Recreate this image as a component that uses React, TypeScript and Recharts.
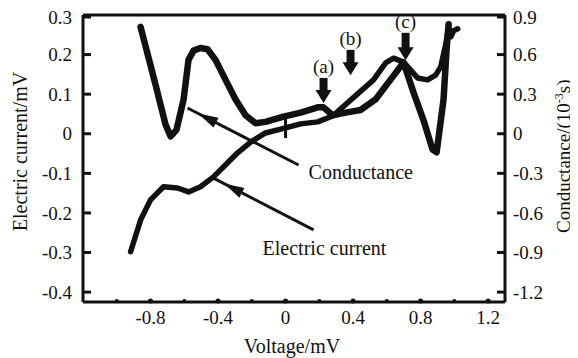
import { LineChart, Line, XAxis, YAxis, ReferenceLine, Label } from 'recharts';

// conductance curve (right axis, 10^-3 s)
const condVoltage = [
  -0.859, -0.77, -0.711, -0.681, -0.646, -0.604, -0.575, -0.545, -0.504, -0.462, -0.415,
  -0.356, -0.296, -0.237, -0.178, -0.119, -0.012, 0.089, 0.19, 0.225, 0.279, 0.356, 0.444,
  0.533, 0.622, 0.699, 0.759, 0.818, 0.871, 0.895, 0.936, 0.954, 0.966,
];
const condValues = [
  0.81, 0.37, 0.07, -0.02, 0.03, 0.26, 0.56, 0.63, 0.65, 0.64, 0.56, 0.41, 0.26, 0.14, 0.08,
  0.09, 0.13, 0.16, 0.2, 0.2, 0.14, 0.16, 0.18, 0.26, 0.41, 0.54, 0.31, 0.1, -0.12, -0.14,
  0.26, 0.64, 0.83,
];

// electric current curve (left axis, mV)
const currVoltage = [
  -0.918, -0.859, -0.8, -0.723, -0.64, -0.575, -0.504, -0.427, -0.284, -0.207, -0.119, 0,
  0.089, 0.19, 0.279, 0.385, 0.521, 0.593, 0.64, 0.699, 0.782, 0.841, 0.889, 0.919, 0.948,
  0.966, 0.98, 0.995, 1.02,
];
const currValues = [
  -0.298, -0.218, -0.167, -0.134, -0.137, -0.147, -0.134, -0.109, -0.048, -0.021, 0.002,
  0.015, 0.025, 0.03, 0.045, 0.085, 0.136, 0.179, 0.191, 0.181, 0.141, 0.136, 0.148, 0.169,
  0.224, 0.27, 0.245, 0.26, 0.265,
];

const xTicks = [-1.0, -0.8, -0.6, -0.4, -0.2, 0, 0.2, 0.4, 0.6, 0.8, 1.0, 1.2];
const xLabels = [-0.8, -0.4, 0, 0.4, 0.8, 1.2];
const leftTicks = [-0.4, -0.35, -0.3, -0.25, -0.2, -0.15, -0.1, -0.05, 0, 0.05, 0.1, 0.15, 0.2, 0.25, 0.3];
const leftLabels = [-0.4, -0.3, -0.2, -0.1, 0, 0.1, 0.2, 0.3];
const rightTicks = [-1.2, -1.05, -0.9, -0.75, -0.6, -0.45, -0.3, -0.15, 0, 0.15, 0.3, 0.45, 0.6, 0.75, 0.9];
const rightLabels = [-1.2, -0.9, -0.6, -0.3, 0, 0.3, 0.6, 0.9];

const condData = condVoltage.map((v, i) => ({ v, g: condValues[i] }));
const currData = currVoltage.map((v, i) => ({ v, i: currValues[i] }));

const FONT = '"Liberation Serif", "Times New Roman", Times, serif';
const INK = '#111';
const txt = { fontFamily: FONT };

const isIn = (list: number[], v: number) => list.some((t) => Math.abs(t - v) < 1e-6);

const BottomTick = ({ x, y, payload }: any) => {
  const major = isIn(xLabels, payload.value);
  return (
    <g>
      <circle cx={x} cy={y - 9} r={major ? 2.5 : 2} fill={INK} />
      {major && (
        <text x={x} y={y} dy="0.75em" textAnchor="middle" style={txt} fontSize={19} fill={INK}>
          {String(payload.value)}
        </text>
      )}
    </g>
  );
};

const LeftTick = ({ x, y, payload }: any) => {
  const major = isIn(leftLabels, payload.value);
  return (
    <g>
      <line x1={x + 11} x2={x + 11 + (major ? 8 : 6)} y1={y} y2={y} stroke={INK} strokeWidth={3} />
      {major && (
        <text x={x} y={y} dy="0.35em" textAnchor="end" style={txt} fontSize={19} fill={INK}>
          {String(payload.value)}
        </text>
      )}
    </g>
  );
};

const RightTick = ({ x, y, payload }: any) => {
  const major = isIn(rightLabels, payload.value);
  return (
    <g>
      <line x1={x - 8} x2={x - 8 - (major ? 8 : 6)} y1={y} y2={y} stroke={INK} strokeWidth={3} />
      {major && (
        <text x={x} y={y} dy="0.35em" textAnchor="start" style={txt} fontSize={19} fill={INK}>
          {String(payload.value)}
        </text>
      )}
    </g>
  );
};

// thick down arrow with a letter above it
const downArrow = (letter: string) => (p: any) => {
  const { x1, y1, x2, y2 } = p;
  return (
    <g>
      <rect x={x1 - 4} y={y1} width={8} height={y2 - y1 - 11} fill={INK} />
      <polygon points={`${x2 - 8},${y2 - 13} ${x2 + 8},${y2 - 13} ${x2},${y2}`} fill={INK} />
      <text x={x1} y={y1 - 5} textAnchor="middle" style={txt} fontSize={19} fill={INK}>
        {letter}
      </text>
    </g>
  );
};

// pointer line from a text label to a curve
const pointer = (text: string, dx: number, dy: number) => (p: any) => {
  const { x1, y1, x2, y2 } = p;
  const len = Math.hypot(x2 - x1, y2 - y1);
  const ux = (x2 - x1) / len;
  const uy = (y2 - y1) / len;
  const tipX = x2 - ux * 12;
  const tipY = y2 - uy * 12;
  const baseX = tipX - ux * 20;
  const baseY = tipY - uy * 20;
  return (
    <g>
      <line x1={x1} y1={y1} x2={x2} y2={y2} stroke={INK} strokeWidth={3} />
      <polygon
        points={`${tipX},${tipY} ${baseX - uy * 5.5},${baseY + ux * 5.5} ${baseX + uy * 5.5},${baseY - ux * 5.5}`}
        fill={INK}
      />
      <text x={x1 + dx} y={y1 + dy} dy="0.35em" textAnchor="start" style={txt} fontSize={20} fill={INK}>
        {text}
      </text>
    </g>
  );
};

export default function App() {
  return (
    <div style={{ background: '#fff' }}>
      <LineChart width={570} height={350} margin={{ top: 7, right: 0, bottom: 0, left: 0 }}>
        <XAxis
          type="number"
          dataKey="v"
          domain={[-1.2, 1.3]}
          ticks={xTicks}
          allowDataOverflow
          height={56}
          tickSize={0}
          tickMargin={8}
          tick={<BottomTick />}
          axisLine={{ stroke: INK, strokeWidth: 3 }}
        >
          <Label
            content={({ viewBox }: any) => (
              <text
                x={viewBox.x + viewBox.width / 2 - 2}
                y={viewBox.y + 51}
                textAnchor="middle"
                style={txt}
                fontSize={20}
                fill={INK}
              >
                Voltage/mV
              </text>
            )}
          />
        </XAxis>
        <YAxis
          yAxisId="left"
          type="number"
          domain={[-0.425, 0.3]}
          ticks={leftTicks}
          allowDataOverflow
          width={75}
          tickSize={0}
          tickMargin={11}
          tick={<LeftTick />}
          axisLine={{ stroke: INK, strokeWidth: 3 }}
        >
          <Label
            content={({ viewBox }: any) => {
              const cx = viewBox.x + 12;
              const cy = viewBox.y + viewBox.height / 2 - 7;
              return (
                <text
                  x={cx}
                  y={cy}
                  transform={`rotate(-90, ${cx}, ${cy})`}
                  textAnchor="middle"
                  dy="0.35em"
                  style={txt}
                  fontSize={20}
                  fill={INK}
                >
                  Electric current/mV
                </text>
              );
            }}
          />
        </YAxis>
        <YAxis
          yAxisId="right"
          orientation="right"
          type="number"
          domain={[-1.275, 0.9]}
          ticks={rightTicks}
          allowDataOverflow
          width={73}
          tickSize={0}
          tickMargin={8}
          tick={<RightTick />}
          axisLine={{ stroke: INK, strokeWidth: 3 }}
        >
          <Label
            content={() => {
              const cx = 555;
              const cy = 225;
              return (
                <text
                  x={cx}
                  y={cy}
                  transform={`rotate(-90, ${cx}, ${cy})`}
                  textAnchor="start"
                  dy="0.35em"
                  style={txt}
                  fontSize={19}
                  fill={INK}
                >
                  <tspan>Conductance/(10</tspan>
                  <tspan fontSize={12} dy={-7}>-3</tspan>
                  <tspan dy={7}>s)</tspan>
                </text>
              );
            }}
          />
        </YAxis>

        {/* frame top */}
        <ReferenceLine yAxisId="left" y={0.3} stroke={INK} strokeWidth={3} ifOverflow="visible" />

        <Line
          yAxisId="right"
          data={condData}
          dataKey="g"
          type="linear"
          stroke={INK}
          strokeWidth={6.5}
          strokeLinejoin="round"
          strokeLinecap="round"
          dot={false}
          isAnimationActive={false}
        />
        <Line
          yAxisId="left"
          data={currData}
          dataKey="i"
          type="linear"
          stroke={INK}
          strokeWidth={5.5}
          strokeLinejoin="round"
          strokeLinecap="round"
          dot={false}
          isAnimationActive={false}
        />

        {/* zero marker on current curve */}
        <ReferenceLine
          yAxisId="left"
          segment={[{ x: 0, y: 0.04 }, { x: 0, y: -0.011 }]}
          stroke={INK}
          strokeWidth={3}
        />

        {/* (a) (b) (c) arrows */}
        <ReferenceLine
          yAxisId="left"
          segment={[{ x: 0.225, y: 0.141 }, { x: 0.225, y: 0.078 }]}
          shape={downArrow('(a)')}
        />
        <ReferenceLine
          yAxisId="left"
          segment={[{ x: 0.385, y: 0.212 }, { x: 0.385, y: 0.148 }]}
          shape={downArrow('(b)')}
        />
        <ReferenceLine
          yAxisId="left"
          segment={[{ x: 0.711, y: 0.255 }, { x: 0.711, y: 0.186 }]}
          shape={downArrow('(c)')}
        />

        {/* curve labels */}
        <ReferenceLine
          yAxisId="left"
          segment={[{ x: 0.077, y: -0.079 }, { x: -0.581, y: 0.065 }]}
          shape={pointer('Conductance', 10, 7)}
        />
        <ReferenceLine
          yAxisId="left"
          segment={[{ x: 0.166, y: -0.243 }, { x: -0.427, y: -0.112 }]}
          shape={pointer('Electric current', -51, 18)}
        />
      </LineChart>
    </div>
  );
}
